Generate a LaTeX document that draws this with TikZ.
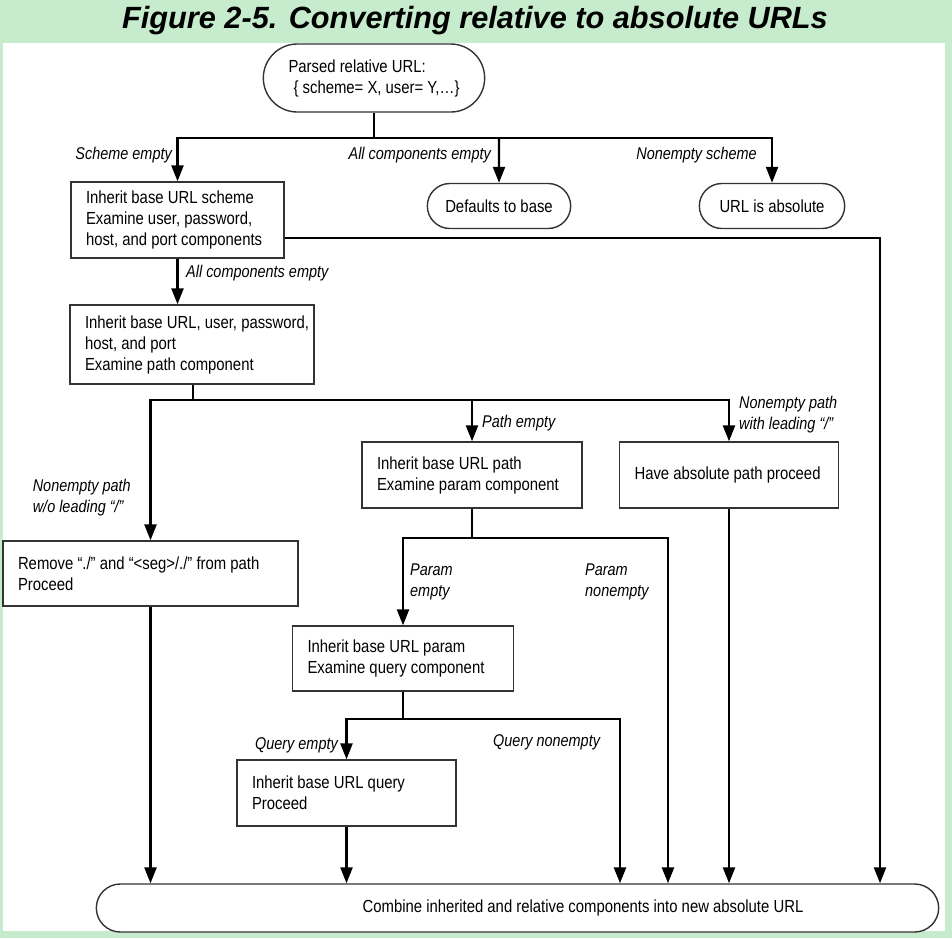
\documentclass[tikz,border=0pt]{standalone}
\usepackage{fontspec}
\setmainfont{Liberation Sans}[FakeStretch=0.85]
\newfontfamily\titlefont{Liberation Sans}
\usetikzlibrary{arrows.meta,shapes.misc,positioning}
\definecolor{bandgreen}{RGB}{198,236,205}

\begin{document}
\begin{tikzpicture}[x=1pt,y=-1pt,
  box/.style={draw=black!80,line width=1.4pt,fill=white,align=flush left,
    inner xsep=15pt,inner ysep=0pt,text width=#1,
    font=\fontsize{17.5}{21}\selectfont},
  term/.style={rounded rectangle,draw=black!80,line width=1.4pt,fill=white,
    align=left,font=\fontsize{17.5}{21}\selectfont},
  lbl/.style={font=\itshape\fontsize{17}{21}\selectfont,inner sep=0pt,align=left},
  conn/.style={line width=2.4pt},
  arr/.style={conn,-{Triangle[length=16pt,width=12pt]}}]
  % fundal
  \fill[bandgreen] (0,0) rectangle (952,938);
  \fill[white] (3,43) rectangle (945,931);
  \node[anchor=base,font=\titlefont\bfseries\itshape\fontsize{30.7}{36}\selectfont] (title) at (475,28)
    {Figure 2-5. Converting relative to absolute URLs};

  % noduri
  \node[term,minimum width=228pt,minimum height=68pt] (start) at (374,78)
    {Parsed relative URL:\\\hspace*{5pt}\{ scheme= X, user= Y,…\}};
  \node[box=183pt,minimum height=76pt] (box1) at (177.5,220)
    {Inherit base URL scheme\\Examine user, password,\\host, and port components};
  \node[term,minimum width=150pt,minimum height=45pt] (def) at (499,206) {Defaults to base};
  \node[term,minimum width=152pt,minimum height=45pt] (abs) at (772,206) {URL is absolute};
  \node[box=214pt,minimum height=79pt] (box2) at (192,344.5)
    {\mbox{Inherit base URL, user, password,}\\host, and port\\Examine path component};
  \node[box=190pt,minimum height=66pt] (box3) at (472,475)
    {Inherit base URL path\\Examine param component};
  \node[box=189pt,minimum height=66pt] (box4) at (729,475) {Have absolute path proceed};
  \node[box=265pt,minimum height=65pt] (remove) at (150.5,573.5)
    {Remove “./” and “<seg>/./” from path\\Proceed};
  \node[box=191pt,minimum height=65pt] (box5) at (403,658.5)
    {Inherit base URL param\\Examine query component};
  \node[box=189pt,minimum height=66pt] (box6) at (346.5,793)
    {Inherit base URL query\\Proceed};
  \node[term,align=center,minimum width=849pt,minimum height=48pt] (final) at (517.5,908)
    {\hspace*{131pt}Combine inherited and relative components into new absolute URL};

  % ramificații
  \path (start.south) ++(0,25) coordinate (j1);
  \draw[conn] (start.south) -- (j1);
  \draw[arr] (j1) -| (box1);
  \draw[arr] (j1) -| (abs);
  \draw[arr] (j1 -| def) -- (def);
  \coordinate (r1) at (880,238);
  \draw[arr] (box1.east |- r1) -- (r1) -- (r1 |- final.north);
  \draw[arr] (box1.south) -- (box1.south |- box2.north);

  \coordinate (j2) at (193,400);
  \draw[conn] (box2.south -| j2) -- (j2);
  \draw[arr] (j2) -| (remove);
  \draw[arr] (j2) -| (box4);
  \draw[arr] (j2 -| box3) -- (box3);

  \path (box3.south) ++(0,29) coordinate (j3);
  \coordinate (p1) at (668,537);
  \draw[conn] (box3.south) -- (j3);
  \draw[arr] (j3) -| (box5);
  \draw[arr] (j3) -| (p1 |- final.north);

  \path (box5.south) ++(0,27) coordinate (j4);
  \coordinate (q1) at (620,718);
  \draw[conn] (box5.south) -- (j4);
  \draw[arr] (j4) -| (box6);
  \draw[arr] (j4) -| (q1 |- final.north);

  % spre nodul final
  \draw[arr] (remove.south) -- (remove.south |- final.north);
  \draw[arr] (box6.south) -- (box6.south |- final.north);
  \draw[arr] (box4.south) -- (box4.south |- final.north);

  % etichete
  \node[lbl,anchor=east] (lscheme) at (172,155) {Scheme empty};
  \node[lbl,anchor=east] (lall) at (491,155) {All components empty};
  \node[lbl,anchor=east] (lnonscheme) at (757,155) {Nonempty scheme};
  \node[lbl,anchor=west] (lall2) at (186,273) {All components empty};
  \node[lbl,anchor=east] (lwo) at (131,498) {Nonempty path\\w/o leading “/”};
  \node[lbl,anchor=west] (lpath) at (482,423) {Path empty};
  \node[lbl,anchor=west] (lwith) at (739,415) {Nonempty path\\with leading “/”};
  \node[lbl,anchor=west] (lparam) at (410,582) {Param\\empty};
  \node[lbl,anchor=west] (lparamne) at (585,582) {Param\\nonempty};
  \node[lbl,anchor=east] (lquery) at (338,745) {Query empty};
  \node[lbl,anchor=west] (lqueryne) at (493,742) {Query nonempty};
\end{tikzpicture}
\end{document}
